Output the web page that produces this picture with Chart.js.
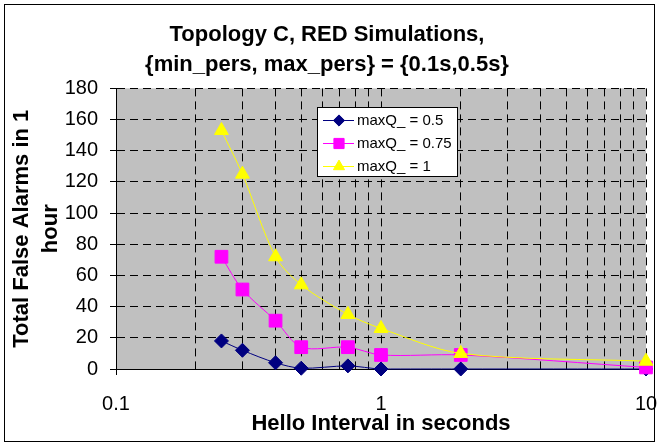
<!DOCTYPE html>
<html>
<head>
<meta charset="utf-8">
<script src="https://cdn.jsdelivr.net/npm/chart.js@4/dist/chart.umd.min.js"></script>
<style>
  html, body { margin: 0; padding: 0; background: #fff; }
  canvas { display: block; }
</style>
</head>
<body>
<canvas id="chart" width="659" height="443"></canvas>
<script>
// Hello interval (s) on a log axis
const helloIntervals = [0.25, 0.3, 0.4, 0.5, 0.75, 1, 2, 10];

// Total false alarms per hour, one array per maxQ_ setting
const alarmsMaxQ05 = [18, 12, 4, 0.5, 2, 0, 0, 0];
const alarmsMaxQ075 = [72, 51, 31, 14, 14, 9, 9, 1];
const alarmsMaxQ1 = [153, 125, 72, 54, 35, 26, 10, 5];

const seriesLabels = ['maxQ_ = 0.5', 'maxQ_ = 0.75', 'maxQ_ = 1'];
const xTicks = [0.1, 0.2, 0.3, 0.4, 0.5, 0.6, 0.7, 0.8, 0.9, 1, 2, 3, 4, 5, 6, 7, 8, 9, 10];
const xLabelTicks = [0.1, 1, 10];

const FONT = "'Liberation Sans', Arial, sans-serif";

function toPoints(values) {
  return helloIntervals.map((x, i) => ({ x: x, y: values[i] }));
}

// gray plot area + outer frame
const backdrop = {
  id: 'backdrop',
  beforeDraw: (chart) => {
    const { ctx, chartArea } = chart;
    ctx.save();
    ctx.fillStyle = '#c0c0c0';
    ctx.fillRect(chartArea.left, chartArea.top, chartArea.right - chartArea.left, chartArea.bottom - chartArea.top);
    ctx.restore();
  },
  afterDraw: (chart) => {
    const ctx = chart.ctx;
    ctx.save();
    ctx.strokeStyle = '#000';
    ctx.lineWidth = 1;
    ctx.strokeRect(4.5, 4.5, 650, 437);
    ctx.restore();
  }
};

// legend box sitting inside the plot area
const boxLegend = {
  id: 'boxLegend',
  afterDatasetsDraw: (chart) => {
    const ctx = chart.ctx;
    const x0 = 317, y0 = 107, w = 140, h = 69;
    ctx.save();
    ctx.fillStyle = '#fff';
    ctx.fillRect(x0, y0, w, h);
    ctx.strokeStyle = '#000';
    ctx.lineWidth = 1;
    ctx.strokeRect(x0 + 0.5, y0 + 0.5, w, h);
    ctx.font = '15px ' + FONT;
    ctx.textBaseline = 'middle';
    chart.data.datasets.forEach((ds, i) => {
      const y = y0 + 13 + i * 23;
      ctx.strokeStyle = ds.borderColor;
      ctx.lineWidth = 1;
      ctx.beginPath();
      ctx.moveTo(x0 + 6, y + 0.5);
      ctx.lineTo(x0 + 37, y + 0.5);
      ctx.stroke();
      ctx.fillStyle = ds.pointBackgroundColor;
      ctx.strokeStyle = ds.pointBorderColor;
      Chart.helpers.drawPoint(ctx, {
        pointStyle: ds.pointStyle,
        radius: ds.pointRadius * 0.8,
        borderWidth: 1
      }, x0 + 22, y + 0.5);
      ctx.fillStyle = '#000';
      ctx.fillText(ds.label, x0 + 40, y + 1);
    });
    ctx.restore();
  }
};

// later series sit on top, like the original
function makeSet(label, values, color, style, radius, order) {
  return {
    label: label,
    data: toPoints(values),
    borderColor: color,
    backgroundColor: color,
    pointBackgroundColor: color,
    pointBorderColor: color,
    pointStyle: style,
    pointRadius: radius,
    pointHoverRadius: radius,
    borderWidth: 1,
    tension: 0.3,
    clip: false,
    order: order
  };
}

new Chart(document.getElementById('chart'), {
  type: 'line',
  data: {
    datasets: [
      makeSet(seriesLabels[0], alarmsMaxQ05, '#000080', 'rectRot', 7, 2),
      makeSet(seriesLabels[1], alarmsMaxQ075, '#ff00ff', 'rect', 9, 1),
      makeSet(seriesLabels[2], alarmsMaxQ1, '#ffff00', 'triangle', 8, 0)
    ]
  },
  options: {
    responsive: false,
    animation: false,
    events: [],
    layout: { autoPadding: false, padding: { left: 8, right: 13, top: 10, bottom: 8 } },
    plugins: {
      legend: { display: false },
      tooltip: { enabled: false },
      title: {
        display: true,
        text: ['Topology C, RED Simulations,', '{min_pers, max_pers} = {0.1s,0.5s}'],
        color: '#000',
        font: { family: FONT, size: 22, weight: 'bold', lineHeight: 1.35 },
        padding: { top: 10, bottom: 9 }
      }
    },
    scales: {
      x: {
        type: 'logarithmic',
        min: 0.1,
        max: 10,
        afterBuildTicks: (axis) => {
          axis.ticks = xTicks.map(v => ({ value: v }));
        },
        afterFit: (axis) => {
          axis.height = 66;
          axis.paddingLeft = 0;
          axis.paddingRight = 0;
        },
        ticks: {
          autoSkip: false,
          maxRotation: 0,
          color: '#000',
          font: { family: FONT, size: 20, lineHeight: 1 },
          padding: 19,
          callback: (v) => xLabelTicks.includes(v) ? String(v) : ''
        },
        grid: {
          color: '#000',
          lineWidth: 1,
          tickLength: 6,
          tickColor: (c) => (c.tick && xLabelTicks.includes(c.tick.value)) ? '#000' : 'rgba(0,0,0,0)'
        },
        border: { display: true, color: '#000', width: 1, dash: [8, 5] },
        title: {
          display: true,
          text: 'Hello Interval in seconds',
          color: '#000',
          font: { family: FONT, size: 22, weight: 'bold', lineHeight: 1 },
          padding: { top: 0, bottom: 0 }
        }
      },
      y: {
        min: 0,
        max: 180,
        afterFit: (axis) => {
          axis.width = 108;
        },
        ticks: {
          stepSize: 20,
          color: '#000',
          font: { family: FONT, size: 20 },
          padding: 12
        },
        grid: { color: '#000', lineWidth: 1, tickLength: 6 },
        border: { display: true, color: '#000', width: 1, dash: [8, 5] },
        title: {
          display: true,
          text: ['Total False Alarms in 1', 'hour'],
          color: '#000',
          font: { family: FONT, size: 22, weight: 'bold', lineHeight: 1.3 },
          padding: { top: 0, bottom: 1 }
        }
      }
    }
  },
  plugins: [backdrop, boxLegend]
});
</script>
</body>
</html>
